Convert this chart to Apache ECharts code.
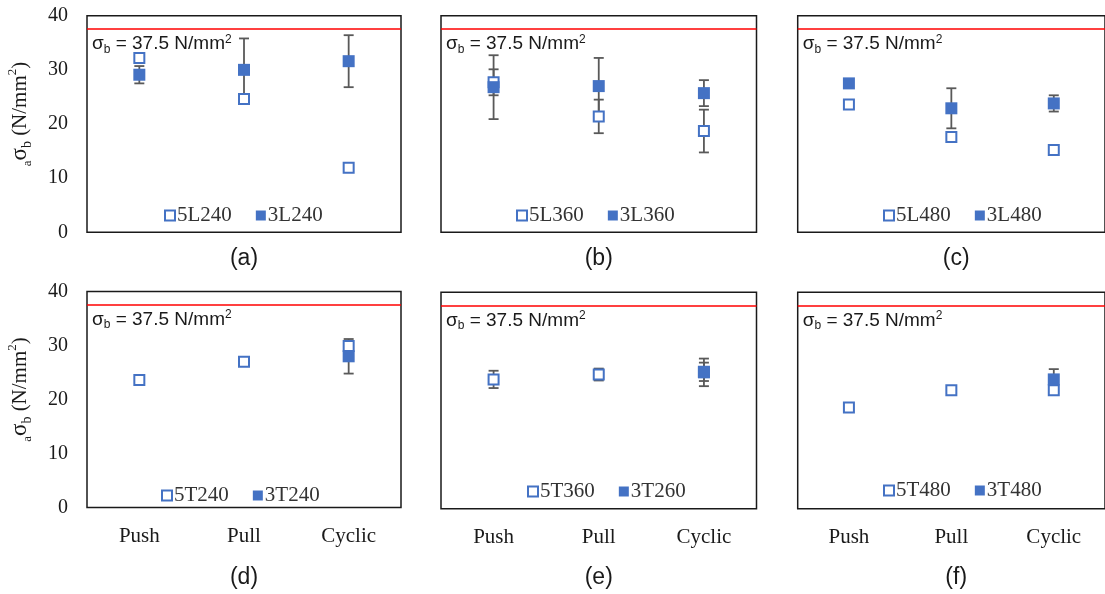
<!DOCTYPE html>
<html><head><meta charset="utf-8">
<script src="https://cdn.jsdelivr.net/npm/echarts@6/dist/echarts.min.js"></script>
<style>html,body{margin:0;padding:0;background:#fff}#c{width:1105px;height:594px}</style>
</head><body><div id="c"></div>
<script>
// ---------- data ----------
const categories = ['Push', 'Pull', 'Cyclic'];
const yTickInterval = 10;
const yMin = 0, yMax = 40;
const sigmaB = 37.5;
const panelLabels = ['(a)', '(b)', '(c)', '(d)', '(e)', '(f)'];
const names5 = ['5L240', '5L360', '5L480', '5T240', '5T360', '5T480'];
const names3 = ['3L240', '3L360', '3L480', '3T240', '3T260', '3T480'];

const a5 = [32.2, 24.6, 11.9];   const a5err = [0, 0, 0];
const a3 = [29.1, 30.0, 31.6];   const a3err = [1.6, 5.8, 4.8];
const b5 = [27.7, 21.4, 18.7];   const b5err = [2.4, 3.1, 3.95];
const b3 = [26.8, 27.0, 25.7];   const b3err = [5.9, 5.2, 2.4];
const c5 = [23.6, 17.6, 15.2];   const c5err = [0, 0, 0];
const c3 = [27.5, 22.9, 23.8];   const c3err = [0, 3.7, 1.5];
const d5 = [23.6, 27.0, 29.9];   const d5err = [0, 0, 0];
const d3 = [null, null, 28.0];   const d3err = [0, 0, 3.2];
const e5 = [23.9, 24.8, 25.3];   const e5err = [1.6, 1.1, 1.7];
const e3 = [null, null, 25.2];   const e3err = [0, 0, 2.55];
const f5 = [18.7, 21.9, 21.9];   const f5err = [0, 0, 0];
const f3 = [null, null, 23.9];   const f3err = [0, 0, 1.9];

const vals5 = [a5, b5, c5, d5, e5, f5];
const errs5 = [a5err, b5err, c5err, d5err, e5err, f5err];
const vals3 = [a3, b3, c3, d3, e3, f3];
const errs3 = [a3err, b3err, c3err, d3err, e3err, f3err];

// ---------- layout ----------
const grids = [
  {left: 87,    top: 15.7,  width: 314,   height: 216.6},
  {left: 441,   top: 15.7,  width: 315.5, height: 216.6},
  {left: 797.7, top: 15.7,  width: 317,   height: 216.6},
  {left: 87,    top: 291.5, width: 314,   height: 216},
  {left: 441,   top: 292.3, width: 315.5, height: 216.4},
  {left: 797.7, top: 292.3, width: 317,   height: 216.4}
];
const legendPos = [
  {left: 164, top: 205}, {left: 516, top: 205}, {left: 883, top: 205},
  {left: 161, top: 485}, {left: 527, top: 481}, {left: 883, top: 480}
];
const labelY = [259, 259, 259, 577.5, 577.5, 577.5];

const BLUE = '#4472C4';
const SERIF = '"Liberation Serif", "Times New Roman", serif';
const SANS = '"Liberation Sans", Arial, sans-serif';
const INK = '#1a1a1a';

function errSeries(gi, vals, errs, name) {
  return {
    type: 'custom', name: name, xAxisIndex: gi, yAxisIndex: gi, z: 1, silent: true,
    encode: {x: 0, y: 1},
    data: vals.map((v, i) => [i, v, errs[i]]).filter(d => d[1] != null && d[2] > 0),
    renderItem(params, api) {
      const x = api.value(0), v = api.value(1), e = api.value(2);
      const t = api.coord([x, v + e]), b = api.coord([x, v - e]);
      const cw = 5;
      const style = {stroke: '#595959', lineWidth: 1.8};
      return {type: 'group', children: [
        {type: 'line', shape: {x1: t[0], y1: t[1], x2: b[0], y2: b[1]}, style},
        {type: 'line', shape: {x1: t[0] - cw, y1: t[1], x2: t[0] + cw, y2: t[1]}, style},
        {type: 'line', shape: {x1: b[0] - cw, y1: b[1], x2: b[0] + cw, y2: b[1]}, style}
      ]};
    }
  };
}

const option = {
  backgroundColor: '#fff',
  animation: false,
  grid: grids.map(g => Object.assign({show: true, borderColor: INK, borderWidth: 1.5, backgroundColor: 'transparent'}, g)),
  xAxis: grids.map((g, i) => ({
    type: 'category', gridIndex: i, data: categories, boundaryGap: true,
    axisLine: {show: false}, axisTick: {show: false}, splitLine: {show: false},
    axisLabel: {show: i >= 3, fontFamily: SERIF, fontSize: 21, color: INK, margin: 18}
  })),
  yAxis: grids.map((g, i) => ({
    type: 'value', gridIndex: i, min: yMin, max: yMax, interval: yTickInterval,
    axisLine: {show: false}, axisTick: {show: false}, splitLine: {show: false},
    axisLabel: {show: i % 3 === 0, fontFamily: SERIF, fontSize: 20, color: INK, margin: 19},
    name: i % 3 === 0 ? '{a|a}{s|σ}{b|b}{t| (N/mm}{p|2}{t|)}' : '',
    nameLocation: 'middle', nameRotate: 90, nameGap: 53,
    nameTextStyle: {
      fontFamily: SERIF, fontSize: 21, color: INK, padding: [0, 0, 0, 20],
      rich: {
        a: {fontFamily: SERIF, fontSize: 13, color: INK, lineHeight: 13, verticalAlign: 'bottom'},
        s: {fontFamily: SERIF, fontSize: 23, color: INK, lineHeight: 28, verticalAlign: 'middle'},
        b: {fontFamily: SERIF, fontSize: 14, color: INK, lineHeight: 14, verticalAlign: 'bottom'},
        t: {fontFamily: SERIF, fontSize: 21, color: INK, lineHeight: 28, verticalAlign: 'middle'},
        p: {fontFamily: SERIF, fontSize: 13, color: INK, lineHeight: 13, verticalAlign: 'top'}
      }
    }
  })),
  legend: grids.map((g, i) => ({
    left: legendPos[i].left, top: legendPos[i].top, orient: 'horizontal', padding: 0,
    itemWidth: 10, itemHeight: 10, itemGap: 24, selectedMode: false,
    textStyle: {fontFamily: SERIF, fontSize: 21, color: '#333', padding: [0, 0, 0, -3]},
    data: [
      {name: names5[i], icon: 'rect', itemStyle: {color: '#fff', borderColor: BLUE, borderWidth: 2}},
      {name: names3[i], icon: 'rect', itemStyle: {color: BLUE, borderWidth: 0}}
    ]
  })),
  graphic: grids.map((g, i) => ({
    type: 'text', x: g.left + g.width / 2, y: labelY[i], silent: true,
    style: {text: panelLabels[i], font: '23px ' + SANS, fill: INK, textAlign: 'center', textVerticalAlign: 'middle'}
  })),
  series: []
};

for (let i = 0; i < 6; i++) {
  option.series.push(errSeries(i, vals5[i], errs5[i], names5[i] + ' err'));
  option.series.push(errSeries(i, vals3[i], errs3[i], names3[i] + ' err'));
  option.series.push({
    type: 'scatter', name: names5[i], xAxisIndex: i, yAxisIndex: i, z: 2,
    symbol: 'rect', symbolSize: 10,
    itemStyle: {color: '#fff', borderColor: BLUE, borderWidth: 2, opacity: 1},
    data: vals5[i],
    markLine: {
      silent: true, symbol: ['none', 'none'],
      lineStyle: {color: '#ff0000', width: 1.5, type: 'solid'},
      label: {
        show: true, position: 'insideStartBottom', distance: [5, 4],
        formatter: '{s|σ}{b|b}{s| = 37.5 N/mm}{p|2}',
        rich: {
          s: {fontFamily: SANS, fontSize: 19, color: INK, lineHeight: 22, verticalAlign: 'middle'},
          b: {fontFamily: SANS, fontSize: 12, color: INK, lineHeight: 11, verticalAlign: 'bottom'},
          p: {fontFamily: SANS, fontSize: 12, color: INK, lineHeight: 11, verticalAlign: 'top'}
        }
      },
      data: [{yAxis: sigmaB}]
    }
  });
  option.series.push({
    type: 'scatter', name: names3[i], xAxisIndex: i, yAxisIndex: i, z: 3,
    symbol: 'rect', symbolSize: 12,
    itemStyle: {color: BLUE, opacity: 1},
    data: vals3[i]
  });
}

const chart = echarts.init(document.getElementById('c'), null, {renderer: 'canvas'});
chart.setOption(option);
</script></body></html>
